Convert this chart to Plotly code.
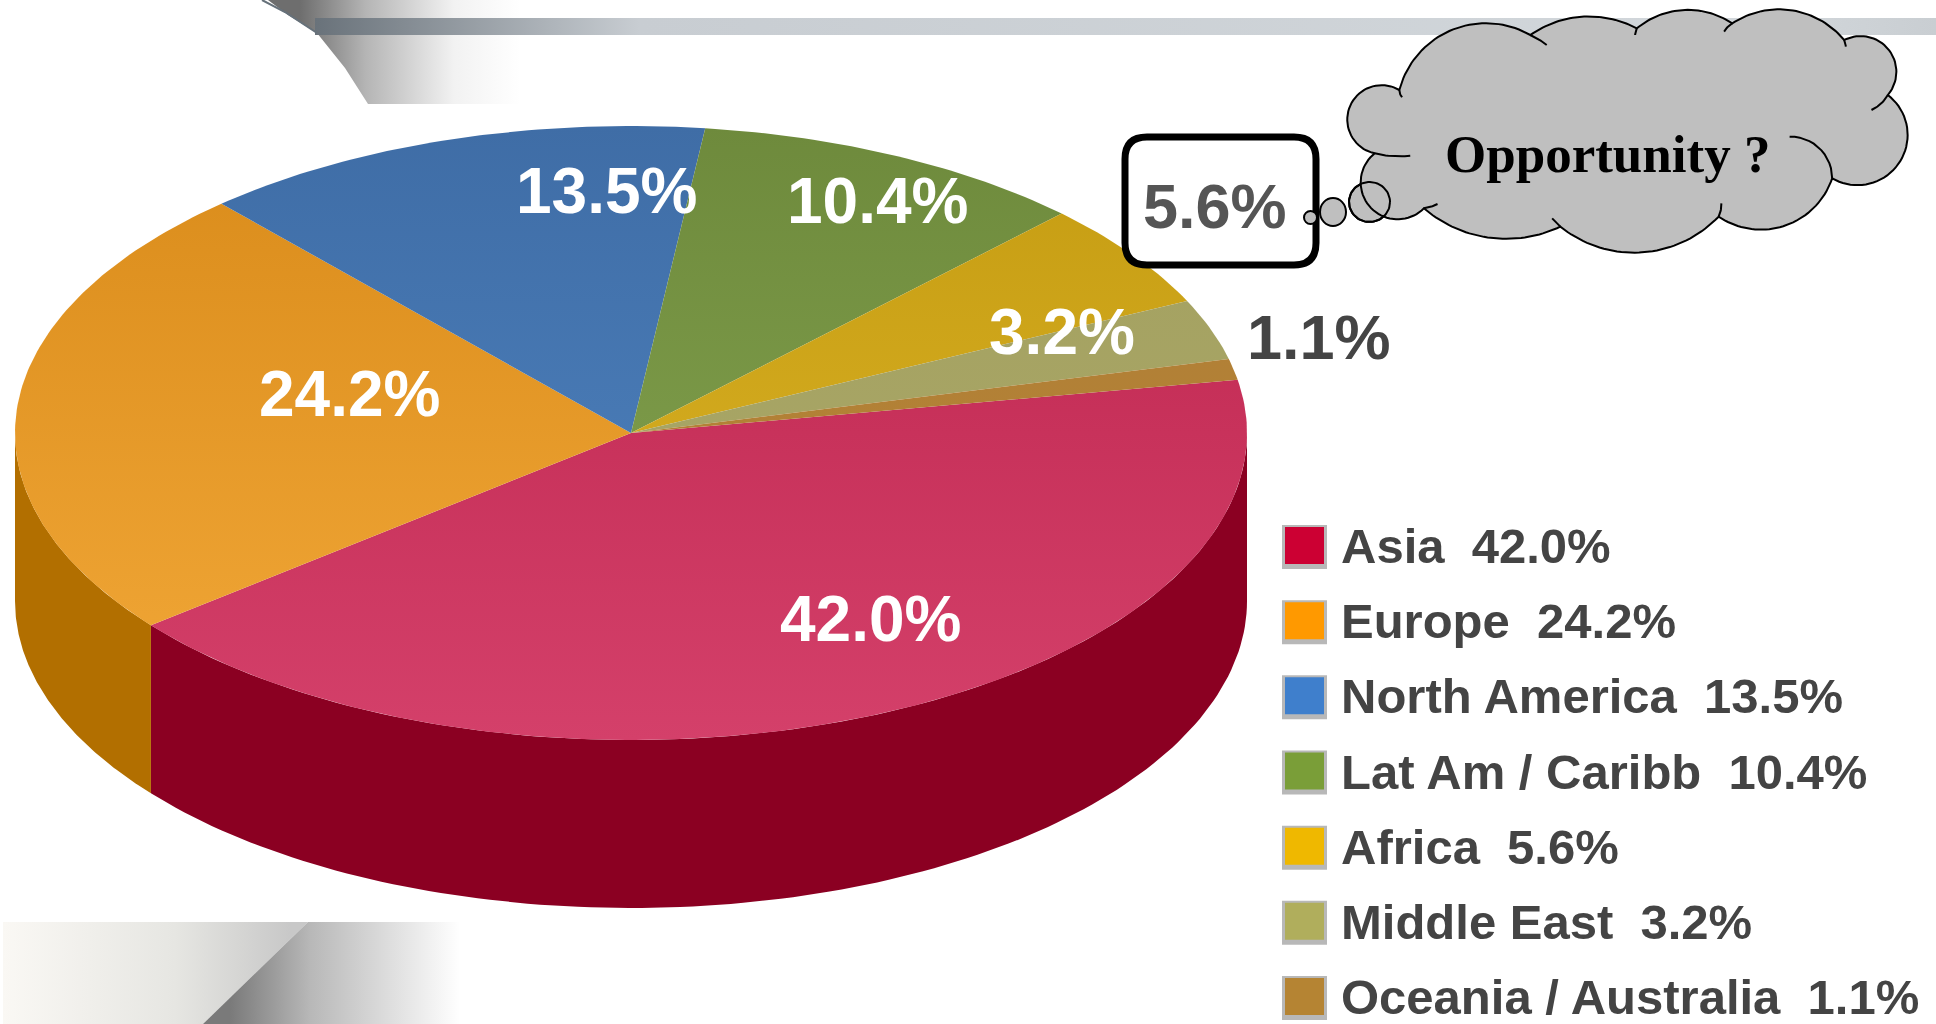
import numpy as np
import plotly.graph_objects as go

# ---- data ----
regions = ["Asia", "Europe", "North America", "Lat Am / Caribb", "Africa", "Middle East", "Oceania / Australia"]
shares = [42.0, 24.2, 13.5, 10.4, 5.6, 3.2, 1.1]
legend_colors = ["#CC0033", "#FF9900", "#3F7FCC", "#7A9E38", "#EFB800", "#B0AE5C", "#B58433"]
face_top = ["#BC244C", "#D98B1A", "#3F6DA6", "#6E8A3C", "#C59C12", "#A3A05F", "#B07E38"]
face_bottom = ["#D4406A", "#F2A838", "#5085C2", "#86A652", "#DDB528", "#ABA96A", "#B58433"]
wall_colors = ["#8B0022", "#B26F00"]
pie_labels = ["42.0%", "24.2%", "13.5%", "10.4%", "3.2%"]
outer_labels = ["5.6%", "1.1%"]

# ---- geometry of the drawing ----
W, H = 1936, 1024
CX, CY, RX, RY, DEPTH = 631, 433, 616, 307, 168
START = -10.0
label_pos = {"42.0%": (870, 619), "24.2%": (349, 394), "13.5%": (606, 191), "10.4%": (877, 201), "3.2%": (1062, 332)}

fig = go.Figure()


def poly(x, y, color=None, grad=None, line=None, lw=0):
    kw = dict(x=list(x), y=list(y), mode="lines", fill="toself", hoverinfo="skip", showlegend=False,
              line=dict(width=lw, color=line or "rgba(0,0,0,0)"))
    if grad:
        kw["fillgradient"] = grad
    else:
        kw["fillcolor"] = color
    fig.add_trace(go.Scatter(**kw))


def stroke(x, y, color="#000000", lw=2):
    fig.add_trace(go.Scatter(x=list(x), y=list(y), mode="lines", hoverinfo="skip", showlegend=False,
                             line=dict(color=color, width=lw)))


def hgrad(stops, a, b):
    return dict(type="horizontal", colorscale=stops, start=a, stop=b)


# ---- slide background decoration ----
poly([268, 288, 317, 345, 368, 560, 560], [0, 15, 33, 68, 104, 104, 0],
     grad=hgrad([[0, "#6E6E6E"], [0.3, "#B5B5B5"], [0.7, "#F2F2F2"], [1, "#FFFFFF"]], 300, 520))
poly([315, 1936, 1936, 315], [18, 18, 35, 35],
     grad=hgrad([[0, "#69727A"], [0.2, "#C8CDD2"], [0.9, "#D2D7DB"], [1, "#C9CED2"]], 315, 1936))
stroke([262, 285, 317], [0, 12, 33], color="#66717A", lw=2)
poly([3, 308, 203, 3], [922, 922, 1024, 1024],
     grad=hgrad([[0, "#FAF8F4"], [0.6, "#E6E6E2"], [1, "#C8C8C8"]], 3, 290))
poly([308, 470, 470, 203], [922, 922, 1024, 1024],
     grad=hgrad([[0, "#7A7A7A"], [0.35, "#B8B8B8"], [1, "#FFFFFF"]], 230, 460))

# ---- pie ----
total = sum(shares)
angles = np.concatenate([[0], np.cumsum(shares)]) / total * 360 + START


def ell(t_deg, dy=0):
    t = np.radians(t_deg)
    return CX + RX * np.cos(t), CY + RY * np.sin(t) + dy


# walls: only the part on the front of the pie (0..180 degrees)
for i, col in enumerate(wall_colors):
    a, b = max(angles[i], 0), min(angles[i + 1], 180)
    t = np.linspace(a, b, 120)
    xt, yt = ell(t)
    xb, yb = ell(t[::-1], DEPTH)
    poly(np.r_[xt, xb], np.r_[yt, yb], color=col)

for i in range(len(shares)):
    t = np.linspace(angles[i], angles[i + 1], max(int(shares[i] * 4), 12))
    x, y = ell(t)
    poly(np.r_[CX, x, CX], np.r_[CY, y, CY],
         grad=dict(type="vertical", colorscale=[[0, face_top[i]], [1, face_bottom[i]]],
                   start=CY - RY, stop=CY + RY))


# ---- callout cloud ----
def Z(zx, zy):
    return 1080 + zx / 1.832, zy / 3.0


def arc3(p0, pm, p1, n=40):
    """Circular arc through three points given in zoom coordinates."""
    (ax, ay), (bx, by), (cx, cy) = Z(*p0), Z(*pm), Z(*p1)
    d = 2 * (ax * (by - cy) + bx * (cy - ay) + cx * (ay - by))
    ux = ((ax**2 + ay**2) * (by - cy) + (bx**2 + by**2) * (cy - ay) + (cx**2 + cy**2) * (ay - by)) / d
    uy = ((ax**2 + ay**2) * (cx - bx) + (bx**2 + by**2) * (ax - cx) + (cx**2 + cy**2) * (bx - ax)) / d
    r = np.hypot(ax - ux, ay - uy)
    a0, am, a1 = [np.arctan2(q - uy, p - ux) for p, q in ((ax, ay), (bx, by), (cx, cy))]

    def norm(v):
        return (v - a0) % (2 * np.pi)

    if norm(am) < norm(a1):
        ts = a0 + np.linspace(0, norm(a1), n)
    else:
        ts = a0 - np.linspace(0, 2 * np.pi - norm(a1), n)
    return ux + r * np.cos(ts), uy + r * np.sin(ts)


def bubble(x0, x1, y0, y1, fill=None, lw=2):
    t = np.linspace(0, 2 * np.pi, 70)
    x = (x0 + x1) / 2 + (x1 - x0) / 2 * np.cos(t)
    y = (y0 + y1) / 2 + (y1 - y0) / 2 * np.sin(t)
    if fill:
        poly(x, y, color=fill, line="#000000", lw=lw)
    else:
        stroke(x, y, lw=lw)


GREY = "#BFBFBF"
bubble(1349, 1390, 182, 222, fill=GREY)

lobes = [
    ((585, 270), (640, 130), (825, 105)),
    ((825, 105), (920, 50), (1020, 85)),
    ((1020, 85), (1105, 30), (1195, 70)),
    ((1195, 70), (1300, 30), (1400, 120)),
    ((1400, 120), (1495, 230), (1480, 285)),
    ((1480, 285), (1515, 380), (1378, 535)),
    ((1378, 535), (1320, 655), (1170, 650)),
    ((1170, 650), (1020, 758), (880, 680)),
    ((880, 680), (760, 715), (630, 625)),
    ((630, 625), (515, 530), (540, 460)),
    ((540, 460), (490, 370), (585, 270)),
]
xs, ys = [], []
for p in lobes:
    a, b = arc3(*p)
    xs.extend(a)
    ys.extend(b)
poly(xs, ys, color=GREY, line="#000000", lw=2)

tails = [
    ((825, 105), (842, 120), (855, 135)),
    ((1020, 85), (1018, 95), (1017, 105)),
    ((1195, 70), (1186, 82), (1180, 95)),
    ((1400, 120), (1402, 130), (1403, 140)),
    ((1480, 285), (1468, 310), (1450, 330)),
    ((1378, 535), (1365, 465), (1300, 410)),
    ((1170, 650), (1174, 630), (1175, 610)),
    ((880, 680), (872, 667), (865, 655)),
    ((630, 625), (643, 620), (655, 612)),
    ((540, 460), (570, 468), (605, 467)),
    ((585, 270), (586, 280), (590, 292)),
]
for p in tails:
    a, b = arc3(*p, n=14)
    stroke(a, b)
bubble(1349, 1390, 182, 222)

# ---- boxed label ----
bx0, bx1, by0, by1, br = 1125, 1316, 137, 265, 22
box_path = (f"M{bx0 + br},{by0} L{bx1 - br},{by0} Q{bx1},{by0} {bx1},{by0 + br} L{bx1},{by1 - br} "
            f"Q{bx1},{by1} {bx1 - br},{by1} L{bx0 + br},{by1} Q{bx0},{by1} {bx0},{by1 - br} "
            f"L{bx0},{by0 + br} Q{bx0},{by0} {bx0 + br},{by0} Z")
fig.add_shape(type="path", path=box_path, line=dict(color="#000000", width=7), fillcolor="#FFFFFF", layer="above")
fig.add_shape(type="circle", x0=1304, x1=1317, y0=211, y1=224, line=dict(color="#000000", width=2),
              fillcolor=GREY, layer="above")
fig.add_shape(type="circle", x0=1320, x1=1346, y0=198, y1=226, line=dict(color="#000000", width=2),
              fillcolor=GREY, layer="above")

# ---- texts ----
BOLD = "Liberation Sans"


def text(x, y, s, size, color, family=BOLD, anchor="center"):
    fig.add_annotation(x=x, y=y, text=f"<b>{s}</b>", showarrow=False, xanchor=anchor, yanchor="middle",
                       font=dict(family=family, size=size, color=color))


for s in pie_labels:
    text(*label_pos[s], s, 64, "#FFFFFF")
text(1215, 206, outer_labels[0], 63, "#555555")
text(1319, 337, outer_labels[1], 63, "#444444")
text(1607, 154, "Opportunity ?", 53, "#000000", family="Liberation Serif")

# ---- legend ----
row_y = np.linspace(546, 997, len(regions))
for y, r, s, c in zip(row_y, regions, shares, legend_colors):
    fig.add_shape(type="rect", x0=1282, x1=1327, y0=y - 21, y1=y + 23, fillcolor="#9A9A9A", line_width=0, layer="above", opacity=0.7)
    fig.add_shape(type="rect", x0=1285, x1=1324, y0=y - 19, y1=y + 18, fillcolor=c, line_width=0, layer="above")
    text(1339, y, f"{r}\u00a0\u00a0{s:.1f}%", 49, "#444444", anchor="left")

fig.update_xaxes(range=[0, W], visible=False, fixedrange=True)
fig.update_yaxes(range=[H, 0], visible=False, fixedrange=True)
fig.update_layout(width=W, height=H, margin=dict(l=0, r=0, t=0, b=0), paper_bgcolor="#FFFFFF",
                  plot_bgcolor="#FFFFFF", showlegend=False)
fig.write_html("out.html", config=dict(displayModeBar=False),
               post_script="document.body.style.margin='0';document.body.style.overflow='hidden';")
